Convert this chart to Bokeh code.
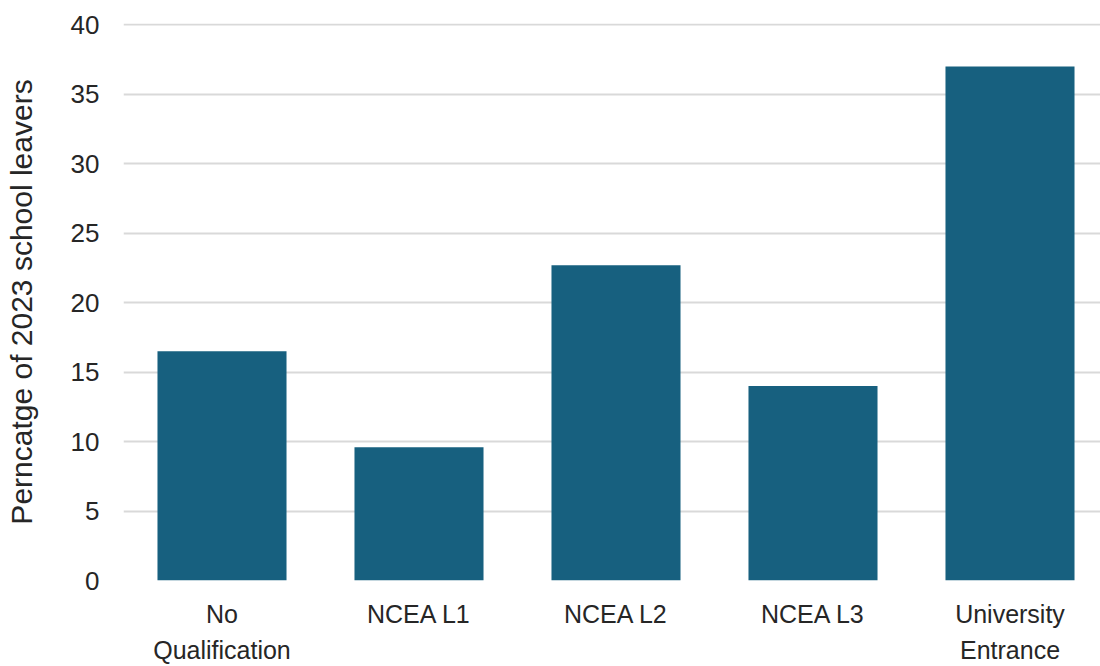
from bokeh.plotting import figure
from bokeh.models import Range1d, FixedTicker
from bokeh.embed import file_html
from bokeh.resources import INLINE

categories = ["No\nQualification", "NCEA L1", "NCEA L2", "NCEA L3", "University\nEntrance"]
values = [16.5, 9.6, 22.7, 14.0, 37.0]
y_ticks = [0, 5, 10, 15, 20, 25, 30, 35, 40]

x = list(range(len(categories)))
left_border = 123
cat_px = 197
right_end = (1100 - left_border) / cat_px - 0.5

p = figure(width=1100, height=666, output_backend="svg", toolbar_location=None,
           x_range=Range1d(-0.5, right_end), y_range=Range1d(0, 40.1),
           min_border_left=left_border, min_border_right=0, min_border_top=23, min_border_bottom=86)
p.outline_line_color = None
p.background_fill_color = "white"
p.border_fill_color = "white"

p.vbar(x=x, top=values, width=0.655, bottom=0, color="#17607F", line_color=None)

font = "Liberation Sans"
p.xaxis.ticker = FixedTicker(ticks=x)
p.xaxis.major_label_overrides = {i: c for i, c in enumerate(categories)}
p.xaxis.major_label_text_font = font
p.xaxis.major_label_text_font_size = "25px"
p.xaxis.major_label_text_color = "#262626"
p.xaxis.major_label_text_line_height = 1.3
p.xaxis.major_label_standoff = 19
p.xaxis.axis_line_color = None
p.xaxis.major_tick_line_color = None
p.xaxis.minor_tick_line_color = None
p.xaxis.major_tick_out = 0
p.xaxis.major_tick_in = 0
p.xgrid.grid_line_color = None

p.yaxis.ticker = FixedTicker(ticks=y_ticks)
p.yaxis.major_label_text_font = font
p.yaxis.major_label_text_font_size = "26px"
p.yaxis.major_label_text_color = "#262626"
p.yaxis.major_label_standoff = 24
p.yaxis.axis_line_color = None
p.yaxis.major_tick_line_color = None
p.yaxis.minor_tick_line_color = None
p.yaxis.major_tick_out = 0
p.yaxis.major_tick_in = 0
p.yaxis.axis_label = "Perncatge of 2023 school leavers"
p.yaxis.axis_label_text_font = font
p.yaxis.axis_label_text_font_size = "30px"
p.yaxis.axis_label_text_font_style = "normal"
p.yaxis.axis_label_text_color = "#262626"
p.yaxis.axis_label_standoff = 30
p.ygrid.grid_line_color = "#D9D9D9"
p.ygrid.grid_line_width = 2

open("out.html", "w").write(file_html(p, INLINE))
